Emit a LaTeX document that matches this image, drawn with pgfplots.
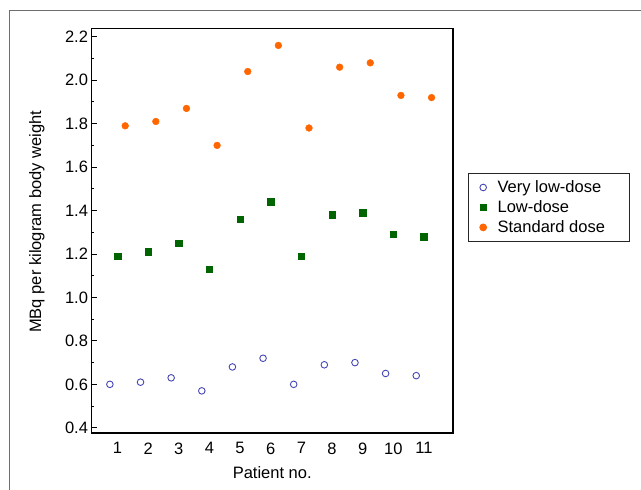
\documentclass[border=0pt]{standalone}
\usepackage{fontspec}
\setmainfont{Liberation Sans}
\usepackage{pgfplots}
\pgfplotsset{compat=1.18}
\definecolor{vlow}{RGB}{70,70,180}
\definecolor{low}{RGB}{0,100,0}
\definecolor{std}{RGB}{255,102,0}
\definecolor{frame}{RGB}{110,110,110}
\newcommand{\chartfont}{\fontsize{16.5}{19.8}\selectfont}
\begin{document}
\begin{tikzpicture}
\useasboundingbox (-91.5pt,-57pt) rectangle (549.5pt,433pt);
\draw[frame, line width=1pt] (-81.5pt,-57pt) -- (-81.5pt,422.7pt) -- (549.5pt,422.7pt);
\begin{axis}[
    scale only axis,
    width=361.5pt,
    height=404.5pt,
    xmin=0.15, xmax=11.95,
    ymin=0.376, ymax=2.238,
    xtick={1,...,11},
    ytick={0.4,0.6,...,2.21},
    minor y tick num=1,
    xtick pos=bottom, ytick pos=left,
    xtick style={draw=none},
    tick align=inside,
    major tick length=5pt, minor tick length=3pt,
    every tick/.style={black, line width=0.9pt},
    axis line style={line width=1.6pt},
    tick label style={font=\chartfont},
    label style={font=\chartfont},
    /pgf/number format/assume math mode=true,
    yticklabel style={/pgf/number format/.cd, fixed, fixed zerofill, precision=1},
    xticklabel style={yshift=-6pt},
    xlabel={Patient no.},
    ylabel={MBq per kilogram body weight},
    xlabel style={at={(axis description cs:0.5,-0.099)}, anchor=center},
    ylabel style={at={(axis description cs:-0.151,0.522)}, anchor=center},
    legend style={at={(axis description cs:1.0423,0.642)}, anchor=north west,
        draw=black!85, line width=0.9pt, font=\chartfont, inner xsep=4pt, inner ysep=5pt,
        row sep=2.5pt},
    legend cell align=left,
    legend image code/.code={\path (0pt,0pt) (22pt,0pt);
        \draw[mark repeat=2,mark phase=2,#1] plot coordinates {(4pt,0pt)(10pt,0pt)(16pt,0pt)};},
]
\addplot[only marks, mark=o, mark size=3.3pt, draw=vlow, line width=0.9pt] coordinates {
  (0.75,0.60) (1.75,0.61) (2.75,0.63) (3.75,0.57) (4.75,0.68) (5.75,0.72)
  (6.75,0.60) (7.75,0.69) (8.75,0.70) (9.75,0.65) (10.75,0.64)
};
\addlegendentry{Very low-dose}
\addplot[only marks, mark=square*, mark size=3.2pt, draw=low, fill=low] coordinates {
  (1,1.19) (2,1.21) (3,1.25) (4,1.13) (5,1.36) (6,1.44)
  (7,1.19) (8,1.38) (9,1.39) (10,1.29) (11,1.28)
};
\addlegendentry{Low-dose}
\addplot[only marks, mark=*, mark size=3.4pt, draw=std, fill=std] coordinates {
  (1.25,1.79) (2.25,1.81) (3.25,1.87) (4.25,1.70) (5.25,2.04) (6.25,2.16)
  (7.25,1.78) (8.25,2.06) (9.25,2.08) (10.25,1.93) (11.25,1.92)
};
\addlegendentry{Standard dose\hspace{18pt}\null}
\end{axis}
\end{tikzpicture}
\end{document}
